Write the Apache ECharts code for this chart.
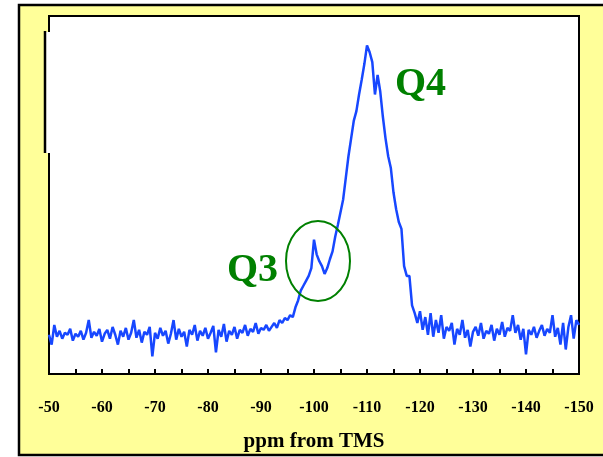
<!DOCTYPE html>
<html>
<head>
<meta charset="utf-8">
<script src="https://cdn.jsdelivr.net/npm/echarts@6/dist/echarts.min.js"></script>
<style>
html,body{margin:0;padding:0;background:#fff;}
#chart{width:603px;height:457px;}
</style>
</head>
<body>
<div id="chart"></div>
<script>
// Spectrum sampled every 0.5 ppm from -50 to -150 ppm
var ppmStart = -50;
var ppmStep = -0.5;
var intensity = [
  40,30,50,38,44,36,42,40,46,34,41,38,44,35,42,55,37,43,39,46,
  33,41,45,36,48,40,30,44,38,47,35,42,55,37,45,32,43,40,48,18,
  42,36,47,39,44,31,41,55,35,46,38,43,28,45,40,50,34,44,39,47,
  36,42,49,22,45,38,51,33,44,40,48,36,45,42,50,39,46,43,52,41,
  47,45,50,44,48,52,47,55,52,57,55,60,58,68,75,85,90,95,100,108,
  137,122,115,110,102,108,117,125,140,152,165,178,200,222,240,258,268,285,300,316,
  335,328,318,285,305,288,262,240,222,210,185,168,155,148,110,100,100,70,62,52,
  64,45,58,40,62,38,55,42,60,36,48,44,52,30,46,40,55,37,45,28,
  43,48,39,52,36,44,41,50,34,46,40,53,38,47,44,60,42,50,35,46,
  20,45,40,48,37,44,50,39,46,42,60,38,47,30,52,25,48,60,36,55,
  50
];
var tickLabels = ['-50','-60','-70','-80','-90','-100','-110','-120','-130','-140','-150'];
var axisTitle = 'ppm from TMS';
var annotations = ['Q3', 'Q4'];

var seriesData = intensity.map(function (v, i) { return [ppmStart + ppmStep * i, v]; });

var chart = echarts.init(document.getElementById('chart'), null, {renderer: 'canvas'});
var serif = 'Liberation Serif, Times New Roman, serif';
chart.setOption({
  backgroundColor: '#ffffff',
  animation: false,
  grid: {
    left: 49, top: 16, width: 530, height: 365,
    show: true, backgroundColor: '#ffffff', borderColor: '#000', borderWidth: 2
  },
  xAxis: {
    type: 'value', min: -150, max: -50, interval: 5, inverse: true,
    name: axisTitle, nameLocation: 'middle', nameGap: 57,
    nameTextStyle: {fontFamily: serif, fontWeight: 'bold', fontSize: 21, color: '#000'},
    axisLine: {show: true, lineStyle: {color: '#000', width: 2}},
    axisTick: {show: true, inside: true, length: 5, lineStyle: {color: '#000', width: 2}},
    splitLine: {show: false},
    axisLabel: {
      margin: 26, fontFamily: serif, fontWeight: 'bold', fontSize: 16, color: '#000',
      formatter: function (v) {
        var s = String(Math.round(v));
        return tickLabels.indexOf(s) >= 0 ? s : '';
      }
    }
  },
  yAxis: {
    type: 'value', min: 0, max: 365,
    axisLine: {show: false}, axisTick: {show: false}, axisLabel: {show: false}, splitLine: {show: false}
  },
  series: [{
    type: 'line', data: seriesData, showSymbol: false, symbol: 'none',
    lineStyle: {color: '#1747FF', width: 2.5}, z: 5
  }],
  graphic: [
    {type: 'rect', z: -10, shape: {x: 19, y: 5, width: 600, height: 450},
     style: {fill: '#FFFF99', stroke: '#000', lineWidth: 2.5}},
    {type: 'rect', z: 100, shape: {x: 46, y: 32, width: 4, height: 121},
     style: {fill: '#ffffff'}},
    {type: 'line', z: 101, shape: {x1: 45, y1: 31, x2: 45, y2: 153},
     style: {stroke: '#000', lineWidth: 2.5}},
    {type: 'ellipse', z: 50, shape: {cx: 318, cy: 261, rx: 32, ry: 40},
     style: {fill: null, stroke: '#008000', lineWidth: 2}},
    {type: 'text', z: 50, style: {x: 227, y: 271, text: annotations[0], fill: '#008000',
      font: 'bold 40px ' + serif, verticalAlign: 'middle', align: 'left'}},
    {type: 'text', z: 50, style: {x: 395, y: 85, text: annotations[1], fill: '#008000',
      font: 'bold 40px ' + serif, verticalAlign: 'middle', align: 'left'}}
  ]
});
</script>
</body>
</html>
